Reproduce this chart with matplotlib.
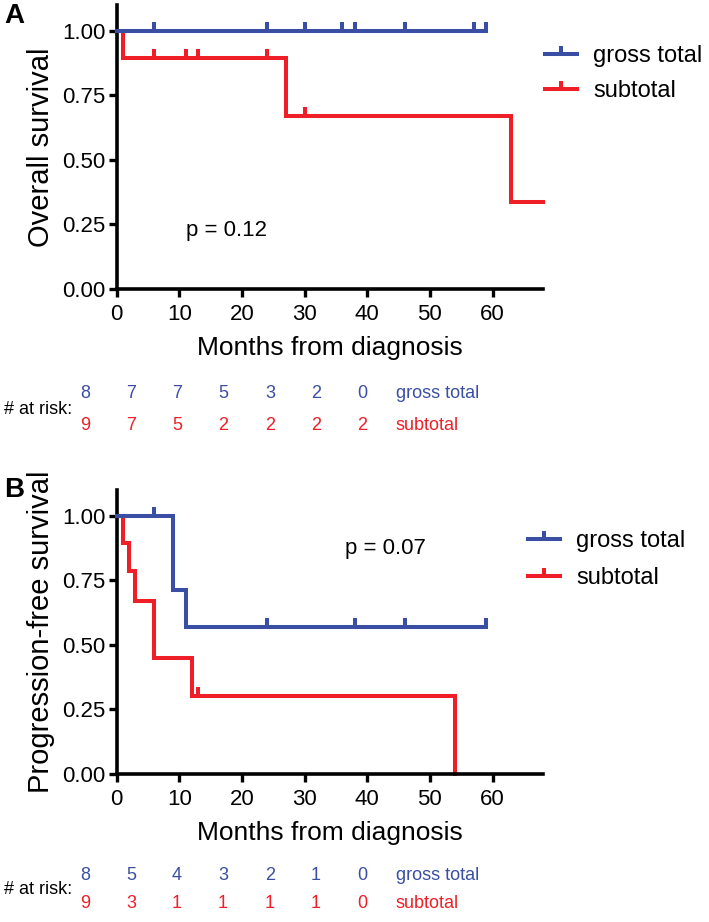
import numpy as np
import matplotlib
matplotlib.use('Agg')
import matplotlib.pyplot as plt
from matplotlib.markers import TICKUP

plt.rcParams['font.family'] = ['Liberation Sans', 'DejaVu Sans']

BLUE = '#3a4fa3'
RED = '#ee1f26'

groups = ['gross total', 'subtotal']

# Panel A - overall survival (step times / survival values, censor times)
os_gt_t = [0, 59]
os_gt_s = [1.0, 1.0]
os_gt_cens = [6, 24, 30, 36, 38, 46, 57, 59]
os_st_t = [0, 1, 27, 63, 68]
os_st_s = [1.0, 0.893, 0.672, 0.338, 0.338]
os_st_cens = [6, 11, 13, 24, 30]

# Panel B - progression-free survival
pfs_gt_t = [0, 9, 11, 59]
pfs_gt_s = [1.0, 0.714, 0.571, 0.571]
pfs_gt_cens = [6, 24, 38, 46, 59]
pfs_st_t = [0, 1, 2, 3, 6, 12, 54]
pfs_st_s = [1.0, 0.893, 0.786, 0.672, 0.45, 0.302, 0.0]
pfs_st_cens = [13]

# numbers at risk
os_risk_gt = [8, 7, 7, 5, 3, 2, 0]
os_risk_st = [9, 7, 5, 2, 2, 2, 2]
pfs_risk_gt = [8, 5, 4, 3, 2, 1, 0]
pfs_risk_st = [9, 3, 1, 1, 1, 1, 0]

p_os = 'p = 0.12'
p_pfs = 'p = 0.07'

LW = 2.9


def surv_at(t, times, surv):
    idx = np.searchsorted(times, t, side='right') - 1
    return np.asarray(surv)[idx]


def km_panel(ax, curves, ylabel):
    # red first so blue sits on top
    for (t, s, cens, color, label) in curves[::-1]:
        z = 3 if color == BLUE else 2
        ax.step(t, s, where='post', color=color, lw=LW, solid_joinstyle='miter',
                zorder=z, clip_on=False)
        ax.plot(cens, surv_at(cens, t, s), ls='none', marker=TICKUP,
                markersize=6.5, markeredgewidth=LW, color=color,
                zorder=z, clip_on=False)
    ax.set_xlim(0, 68)
    ax.set_ylim(0, 1.1)
    ax.set_xticks(np.arange(0, 61, 10))
    ax.set_yticks([0, 0.25, 0.5, 0.75, 1.0])
    ax.set_yticklabels(['0.00', '0.25', '0.50', '0.75', '1.00'])
    for side in ['top', 'right']:
        ax.spines[side].set_visible(False)
    for side in ['left', 'bottom']:
        ax.spines[side].set_linewidth(2.6)
    ax.tick_params(width=2.4, length=6, labelsize=16)
    ax.tick_params(axis='x', pad=4.5)
    ax.tick_params(axis='y', pad=2)
    ax.set_xlabel('Months from diagnosis', fontsize=19, labelpad=8)
    ax.set_ylabel(ylabel, fontsize=21, labelpad=5)


def legend(x, y, spacing):
    handles = [matplotlib.lines.Line2D([], [], color=c, lw=LW, marker=TICKUP,
                                       markersize=6, markeredgewidth=LW)
               for c in (BLUE, RED)]
    fig.legend(handles, groups, loc='upper left', bbox_to_anchor=(x / 709, 1 - y / 922),
               frameon=False, fontsize=17, handlelength=1.35, handletextpad=0.7,
               labelspacing=spacing, borderaxespad=0, borderpad=0)


def risk_table(y_top, y_bot, gt, st):
    xs = [85, 131, 177, 223, 270, 316, 362]
    fs = 13
    fig.text(4 / 709, 1 - (y_top + y_bot) / 2 / 922, '# at risk:', fontsize=fs,
             ha='left', va='center')
    for row, y, color, name in ((gt, y_top, BLUE, groups[0]), (st, y_bot, RED, groups[1])):
        for x, n in zip(xs, row):
            fig.text(x / 709, 1 - y / 922, str(n), fontsize=fs,
                     color=color, ha='center', va='center')
        fig.text(396 / 709, 1 - y / 922, name, fontsize=fs,
                 color=color, ha='left', va='center')


fig = plt.figure(figsize=(7.09, 9.22), dpi=100)
axA = fig.add_axes([116.7 / 709, 1 - 289 / 922, 426 / 709, 284 / 922])
axB = fig.add_axes([116.7 / 709, 1 - 774 / 922, 426 / 709, 284 / 922])

km_panel(axA, [(os_gt_t, os_gt_s, os_gt_cens, BLUE, groups[0]),
               (os_st_t, os_st_s, os_st_cens, RED, groups[1])], 'Overall survival')
km_panel(axB, [(pfs_gt_t, pfs_gt_s, pfs_gt_cens, BLUE, groups[0]),
               (pfs_st_t, pfs_st_s, pfs_st_cens, RED, groups[1])], 'Progression-free survival')

axA.text(11, 0.228, p_os, fontsize=16, ha='left', va='center')
axB.text(36.5, 0.872, p_pfs, fontsize=16, ha='left', va='center')

legend(545, 45, 0.55)
legend(528, 530, 0.65)

fig.text(4 / 709, 1 - 16 / 922, 'A', fontsize=20, fontweight='bold', va='center')
fig.text(4 / 709, 1 - 490 / 922, 'B', fontsize=20, fontweight='bold', va='center')

risk_table(394, 425, os_risk_gt, os_risk_st)
risk_table(875, 903, pfs_risk_gt, pfs_risk_st)

fig.savefig('out.png', dpi=100)
